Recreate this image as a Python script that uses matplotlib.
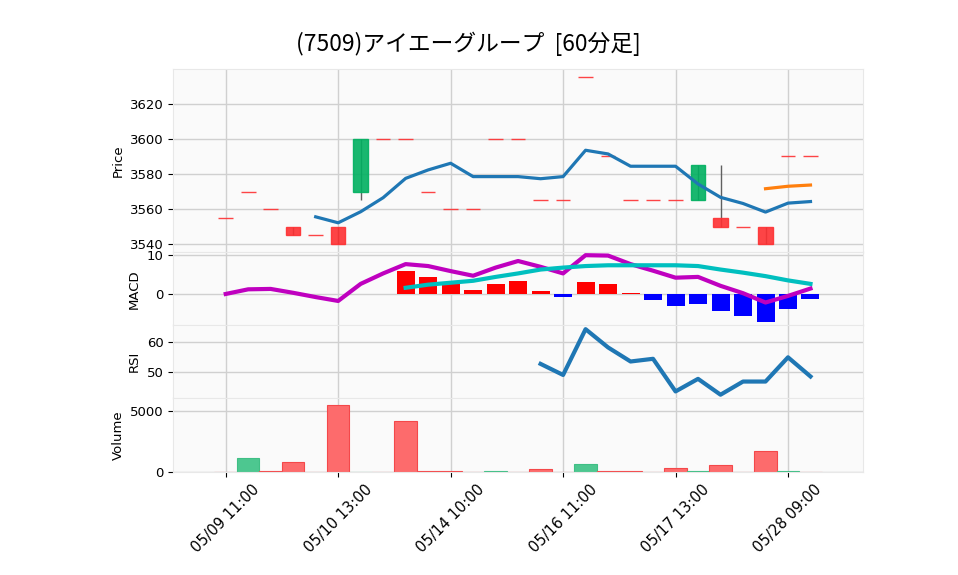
import numpy as np
import matplotlib.pyplot as plt

nan = np.nan

title = '(7509)アイエーグループ  [60分足]'
tick_pos = [0, 5, 10, 15, 20, 25]
tick_labels = ['05/09 11:00', '05/10 13:00', '05/14 10:00',
               '05/16 11:00', '05/17 13:00', '05/28 09:00']

# 60分足のローソク (27本)
opens = [3555, 3570, 3560, 3550, 3545, 3550, 3570, 3600, 3600, 3570, 3560, 3560, 3600, 3600,
         3565, 3565, 3635, 3590, 3565, 3565, 3565, 3565, 3555, 3550, 3550, 3590, 3590]
closes = [3555, 3570, 3560, 3545, 3545, 3540, 3600, 3600, 3600, 3570, 3560, 3560, 3600, 3600,
          3565, 3565, 3635, 3590, 3565, 3565, 3565, 3585, 3550, 3550, 3540, 3590, 3590]
highs = [3555, 3570, 3560, 3550, 3545, 3550, 3600, 3600, 3600, 3570, 3560, 3560, 3600, 3600,
         3565, 3565, 3635, 3590, 3565, 3565, 3565, 3585, 3585, 3550, 3550, 3590, 3590]
lows = [3555, 3570, 3560, 3545, 3545, 3540, 3565, 3600, 3600, 3570, 3560, 3560, 3600, 3600,
        3565, 3565, 3635, 3590, 3565, 3565, 3565, 3565, 3550, 3550, 3540, 3590, 3590]
volume = [0, 1150, 130, 820, 0, 5460, 0, 0, 4180, 130, 130, 0, 130, 0,
          240, 0, 650, 130, 130, 0, 320, 130, 570, 0, 1720, 130, 0]

# 移動平均
ma5 = [nan, nan, nan, nan, 3555.6, 3552.2, 3558.5, 3566.5, 3577.5, 3582.3, 3586.1, 3578.5,
       3578.5, 3578.5, 3577.3, 3578.5, 3593.5, 3591.4, 3584.4, 3584.4, 3584.4, 3574.3,
       3566.7, 3563.2, 3558.3, 3563.4, 3564.3]
ma25 = [nan] * 24 + [3571.6, 3573.0, 3573.7]

# MACD
macd = [0.0, 1.2, 1.3, 0.3, -0.8, -1.8, 2.6, 5.3, 7.7, 7.2, 5.9, 4.7, 6.8, 8.5,
        7.0, 5.3, 10.0, 9.9, 7.7, 6.0, 4.2, 4.4, 2.1, 0.2, -2.2, -0.5, 1.4]
signal = [nan] * 8 + [1.6, 2.4, 2.9, 3.4, 4.4, 5.3, 6.3, 6.8, 7.2, 7.4, 7.4, 7.4,
                      7.4, 7.2, 6.3, 5.5, 4.6, 3.5, 2.6]
hist = [nan] * 8 + [5.9, 4.4, 3.2, 1.0, 2.6, 3.3, 0.8, -0.9, 3.1, 2.6, 0.3, -1.5,
                    -3.0, -2.5, -4.3, -5.6, -7.1, -3.8, -1.2]

# RSI
rsi = [nan] * 14 + [52.6, 48.9, 64.2, 58.1, 53.4, 54.3, 43.4, 47.6, 42.3, 46.7,
                    46.7, 54.8, 48.4]

x = np.arange(len(closes))

fig = plt.figure(figsize=(9.58, 5.75), dpi=100)
L, W = 0.1809, 0.7203
ax1 = fig.add_axes([L, 0.5609, W, 0.3186])
ax2 = fig.add_axes([L, 0.4348, W, 0.1261])
ax3 = fig.add_axes([L, 0.3073, W, 0.1275])
ax4 = fig.add_axes([L, 0.1786, W, 0.1287])

for ax in (ax1, ax2, ax3, ax4):
    ax.set_facecolor('#fafafa')
    ax.set_xlim(-2.33, 28.35)
    ax.set_xticks(tick_pos)
    ax.grid(True, color='#d0d0d0', lw=1)
    ax.set_axisbelow(True)
    for s in ax.spines.values():
        s.set_color('#e8e8e8')
    ax.tick_params(axis='y', labelsize=9.5)
    ax.yaxis.label.set_size(9.5)
for ax in (ax1, ax2, ax3):
    ax.tick_params(axis='x', length=0, labelbottom=False)

# ローソク足
for i in x:
    up = closes[i] > opens[i]
    col = '#00b060' if up else '#fe3032'
    ax1.vlines(i, lows[i], highs[i], color='#606060', lw=1, zorder=2)
    ax1.bar(i, closes[i] - opens[i], bottom=opens[i], width=0.65, color=col,
            edgecolor=col, lw=1, alpha=0.9, zorder=3)
ax1.plot(x, ma5, color='#1f77b4', lw=2.3, zorder=4)
ax1.plot(x, ma25, color='#ff7f0e', lw=2.3, zorder=4)
ax1.set_ylim(3535.3, 3639.6)
ax1.set_yticks([3540, 3560, 3580, 3600, 3620])
ax1.set_ylabel('Price')

# MACD
hcol = ['#ff0000' if h > 0 else '#0000ff' for h in hist]
ax2.bar(x, hist, width=0.8, color=hcol, zorder=2)
ax2.plot(x, macd, color='#bf00bf', lw=3, zorder=3)
ax2.plot(x, signal, color='#00bfbf', lw=3, zorder=3)
ax2.set_ylim(-8.0, 10.7)
ax2.set_yticks([0, 10])
ax2.set_ylabel('MACD')

# RSI
ax3.plot(x, rsi, color='#1f77b4', lw=3)
ax3.set_ylim(41.1, 65.6)
ax3.set_yticks([50, 60])
ax3.set_ylabel('RSI')

# 出来高 (前の終値と比較)
vfill, vedge = [], []
for i in x:
    up = i > 0 and closes[i] > closes[i - 1]
    vfill.append('#4dc790' if up else '#fd6b6c')
    vedge.append('#3fbf85' if up else '#f4484a')
ax4.bar(x, volume, width=1.0, color=vfill, edgecolor=vedge, lw=0.8, zorder=2)
ax4.set_ylim(0, 6040)
ax4.set_yticks([0, 5000])
ax4.set_ylabel('Volume')
ax4.set_xticklabels(tick_labels, rotation=45, fontsize=10.5)

fig.text(0.489, 0.9235, title, ha='center', va='center', fontsize=16.4,
         family=['Noto Sans CJK JP', 'DejaVu Sans'])

fig.savefig('out.png', dpi=100)
